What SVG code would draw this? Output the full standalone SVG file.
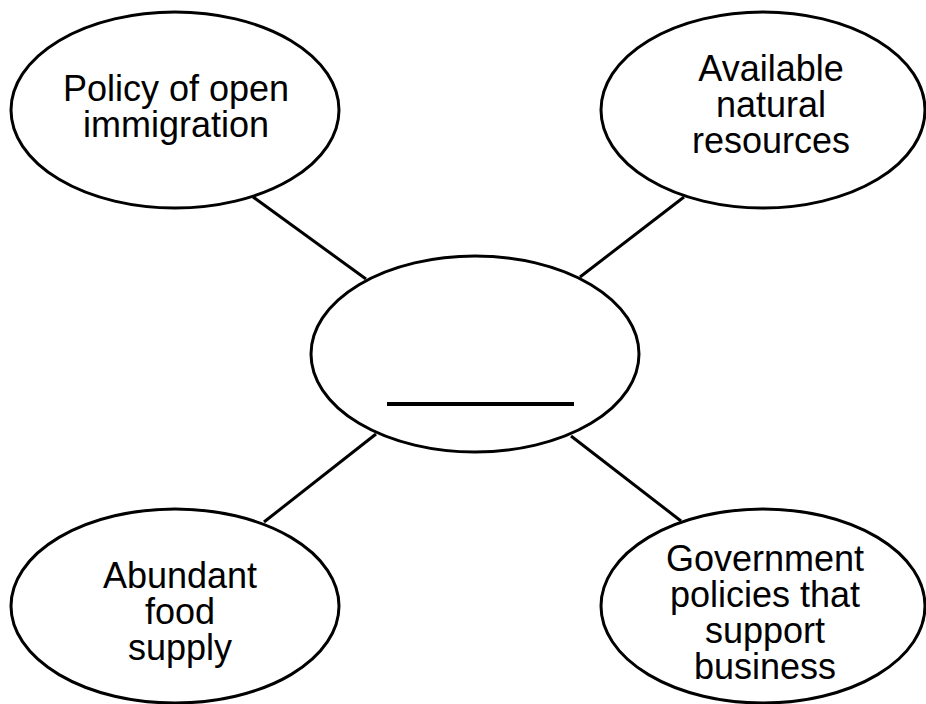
<svg xmlns="http://www.w3.org/2000/svg" width="926" height="704" viewBox="0 0 926 704">
<style>
.node{fill:#fff;stroke:#000;stroke-width:3}
.edge{stroke:#000;stroke-width:3;fill:none}
text{font-family:"Liberation Sans",Arial,sans-serif;font-size:36px;fill:#000;text-anchor:middle}
</style>
<rect width="926" height="704" fill="#fff"/>
<g id="connectors">
<line class="edge" x1="253" y1="197" x2="366" y2="279"/>
<line class="edge" x1="684" y1="197" x2="580" y2="277"/>
<line class="edge" x1="376" y1="434" x2="264" y2="522"/>
<line class="edge" x1="571" y1="436" x2="681" y2="521"/>
</g>
<g id="center">
<ellipse class="node" cx="475" cy="354" rx="164" ry="98"/>
<line x1="387" y1="404" x2="574" y2="404" stroke="#000" stroke-width="4"/>
</g>
<g id="immigration">
<ellipse class="node" cx="175" cy="110" rx="164" ry="98"/>
<text x="176" y="101">Policy of open</text>
<text x="176" y="137">immigration</text>
</g>
<g id="resources">
<ellipse class="node" cx="763" cy="110" rx="162" ry="98"/>
<text x="771" y="81">Available</text>
<text x="771" y="117">natural</text>
<text x="771" y="153">resources</text>
</g>
<g id="food">
<ellipse class="node" cx="175" cy="606" rx="164" ry="97"/>
<text x="180" y="588">Abundant</text>
<text x="180" y="624">food</text>
<text x="180" y="660">supply</text>
</g>
<g id="government">
<ellipse class="node" cx="763" cy="606" rx="162" ry="97"/>
<text x="765" y="571">Government</text>
<text x="765" y="607">policies that</text>
<text x="765" y="643">support</text>
<text x="765" y="679">business</text>
</g>
</svg>
